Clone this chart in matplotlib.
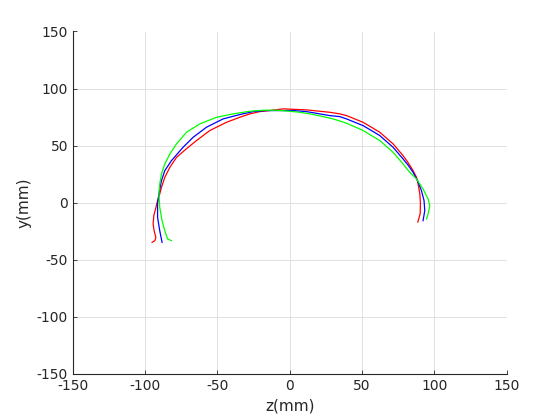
import numpy as np
import matplotlib
matplotlib.use('Agg')
import matplotlib.pyplot as plt

plt.rcParams['axes.unicode_minus'] = False

# red track
red_z = [-95.2, -93.3, -92.6, -93.8, -94.5, -94.0, -92.8, -91.4, -89.9, -88.7, -86.4, -82.9,
         -78.3, -71.4, -64.5, -55.3, -43.8, -34.6, -27.6, -20.7, -13.8, -4.6, 2.3, 11.5,
         20.7, 27.6, 34.6, 39.2, 50.7, 62.2, 71.4, 78.3, 81.5, 85.2, 87.6, 88.7, 89.9,
         90.3, 90.1, 88.5]
red_y = [-34.8, -33.3, -30.4, -24.6, -18.7, -11.4, -5.5, 1.8, 7.6, 13.4, 22.2, 31.0,
         39.7, 47.3, 54.4, 63.2, 70.4, 74.8, 77.8, 79.8, 80.7, 82.2, 81.8, 81.3,
         80.1, 79.2, 77.8, 76.3, 70.4, 61.7, 51.5, 41.2, 35.6, 28.1, 22.2, 16.4, 7.6,
         -1.1, -9.9, -17.0]

# blue track
blue_z = [-88.3, -89.9, -91.4, -91.4, -90.5, -88.7, -86.4, -81.8, -73.8, -66.8, -57.6,
          -46.1, -34.6, -25.4, -16.1, -6.9, 2.3, 11.5, 20.7, 27.6, 34.6, 39.2, 50.7,
          62.2, 71.4, 78.3, 82.0, 85.2, 88.3, 91.0, 92.8, 93.3, 92.1]
blue_y = [-34.8, -24.6, -12.9, -1.1, 7.6, 19.3, 28.1, 36.8, 48.5, 57.3, 66.1,
          73.4, 77.2, 79.8, 80.7, 80.7, 80.7, 79.8, 77.8, 76.3, 75.4, 73.4, 67.5,
          58.8, 48.5, 38.3, 32.5, 26.6, 19.3, 10.5, 1.8, -7.0, -15.8]

# green track
green_z = [-81.8, -84.5, -86.4, -88.3, -89.9, -90.5, -89.9, -88.7, -86.4, -82.9, -78.3,
           -71.4, -62.2, -50.7, -39.2, -27.6, -18.5, -9.2, 0.0, 6.9, 13.8, 23.0, 29.9,
           39.2, 50.7, 62.2, 71.4, 78.3, 82.9, 87.6, 92.1, 95.6, 96.8, 95.6, 94.5]
green_y = [-33.3, -31.8, -24.6, -15.8, -4.1, 7.6, 16.4, 25.2, 33.9, 42.7, 51.5,
           61.7, 69.0, 74.8, 77.8, 80.1, 81.0, 81.0, 80.1, 79.2, 77.8, 75.4, 73.4,
           69.6, 63.2, 54.4, 44.1, 33.9, 26.6, 20.8, 12.0, 3.2, -2.6, -9.9, -14.3]

ticks = [-150, -100, -50, 0, 50, 100, 150]
dark = '#262626'

fig = plt.figure(figsize=(5.6, 4.2), dpi=100)
ax = fig.add_axes([0.13, 0.11, 0.775, 0.815])
ax.plot(red_z, red_y, color='r', lw=0.9)
ax.plot(blue_z, blue_y, color='b', lw=0.9)
ax.plot(green_z, green_y, color='#00ff00', lw=0.9)

ax.set_xlim(-150, 150)
ax.set_ylim(-150, 150)
ax.set_xticks(ticks)
ax.set_yticks(ticks)
ax.grid(True, color='#dcdcdc', lw=0.6)
ax.set_axisbelow(True)
for s in ['top', 'right']:
    ax.spines[s].set_visible(False)
for s in ['left', 'bottom']:
    ax.spines[s].set_color(dark)
    ax.spines[s].set_linewidth(0.8)
ax.tick_params(direction='in', length=3, colors=dark, labelsize=10, width=0.6)
ax.set_xlabel('z(mm)', fontsize=11, color=dark, labelpad=4)
ax.set_ylabel('y(mm)', fontsize=11, color=dark, labelpad=4)

fig.savefig('out.png', dpi=100)
